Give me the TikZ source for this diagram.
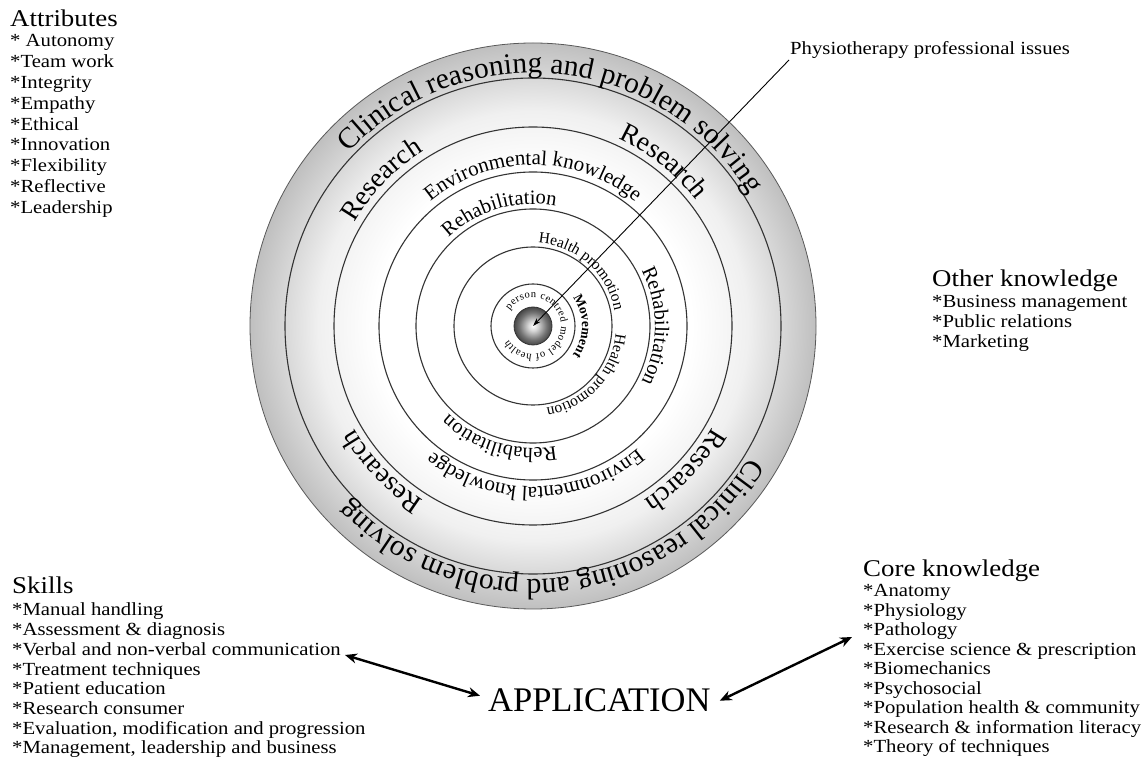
\documentclass[tikz,border=0pt]{standalone}
\usepackage{fontspec}
\setmainfont{Liberation Serif}
\newfontfamily\listfamily{Liberation Serif}[FakeStretch=1.12]
\usetikzlibrary{decorations.text,arrows.meta}

% radial fills for the big disc and the small hub ball
% (the circle edge sits at about 35.4bp of the shading)
\pgfdeclareradialshading{discshade}{\pgfpoint{0bp}{0bp}}{%
  color(0bp)=(white); color(14bp)=(white); color(19bp)=(black!6);
  color(25bp)=(black!25); color(31bp)=(black!42); color(35.4bp)=(black!55);
  color(50bp)=(black!55)}
\pgfdeclareradialshading{ballshade}{\pgfpoint{0bp}{0bp}}{%
  color(0bp)=(white); color(6bp)=(black!15); color(18bp)=(black!55);
  color(28bp)=(black!80); color(35.4bp)=(black!90); color(50bp)=(black!90)}

% fonts for the ring captions
\newcommand\ringOuterFont{\fontsize{29.5pt}{29.5pt}\selectfont}
\newcommand\ringResFont{\fontsize{27.5pt}{27.5pt}\selectfont}
\newcommand\ringEnvFont{\fontsize{21pt}{21pt}\selectfont}
\newcommand\ringRehFont{\fontsize{20.5pt}{20.5pt}\selectfont}
\newcommand\ringHealthFont{\fontsize{15.5pt}{15.5pt}\selectfont}
\newcommand\ringMoveFont{\bfseries\fontsize{13.5pt}{13.5pt}\selectfont}
\newcommand\ringCoreFont{\fontsize{10.5pt}{10.5pt}\selectfont}
% fonts for the side lists
\newcommand\headFont{\listfamily\fontsize{24pt}{24pt}\selectfont}
\newcommand\itemsFont[1]{\listfamily\fontsize{18.5pt}{#1}\selectfont}

% caption centred on angle #2, set clockwise at baseline radius #1
% (#3 font, #4 text)
\newcommand\ringlabel[4]{%
  \path[decorate, decoration={text along path, text align=center,
        text={|#3|#4}}]
    ([shift={({#2+70}:#1)}]hub) arc[start angle={#2+70}, end angle={#2-70}, radius=#1];}
% caption spread from angle #2 to angle #3 at baseline radius #1
\newcommand\ringlabelfit[5]{%
  \path[decorate, decoration={text along path, text align={fit to path},
        text={|#4|#5}}]
    ([shift={(#2:#1)}]hub) arc[start angle=#2, end angle=#3, radius=#1];}

\begin{document}
\begin{tikzpicture}[x=1pt,y=1pt,
  ringline/.style={draw=black!80, line width=1.1pt},
  listhead/.style={anchor=base west, inner sep=0pt, font=\headFont},
  listbody/.style={anchor=base west, inner sep=0pt},
  appArrow/.style={line width=2.4pt,
    {Stealth[length=12pt,width=10pt]}-{Stealth[length=12pt,width=10pt]}},
  physArrow/.style={line width=0.9pt, -{Stealth[length=8pt,width=5pt]}}]

\useasboundingbox (0,0) rectangle (1144,769);
\fill[white] (0,0) rectangle (1144,769);

\coordinate (hub) at (533,443);

% shaded disc and its concentric rings
\shade[shading=discshade] (hub) circle (283pt);
\draw[black!65, line width=0.8pt] (hub) circle (283pt);
\foreach \r in {42,79,117,154,199,248}
  \draw[ringline] (hub) circle (\r pt);

% ring captions
\ringlabel{253pt}{84}{\ringOuterFont}{Clinical reasoning and problem solving}
\ringlabel{253pt}{-84}{\ringOuterFont}{Clinical reasoning and problem solving}
\ringlabel{206pt}{136}{\ringResFont}{Research}
\ringlabel{206pt}{51.5}{\ringResFont}{Research}
\ringlabel{206pt}{-43.5}{\ringResFont}{Research}
\ringlabel{206pt}{-136}{\ringResFont}{Research}
\ringlabel{161pt}{90}{\ringEnvFont}{Environmental knowledge}
\ringlabel{161pt}{-89}{\ringEnvFont}{Environmental knowledge}
\ringlabel{122pt}{106.5}{\ringRehFont}{Rehabilitation}
\ringlabel{122pt}{0}{\ringRehFont}{Rehabilitation}
\ringlabel{122pt}{-106.5}{\ringRehFont}{Rehabilitation}
\ringlabel{83pt}{48.5}{\ringHealthFont}{Health promotion}
\ringlabel{83pt}{-43}{\ringHealthFont}{Health promotion}
\ringlabel{49pt}{0}{\ringMoveFont}{Movement}
\ringlabelfit{28pt}{146}{-150}{\ringCoreFont}{person centred model of health}

% hub ball
\shade[shading=ballshade] (hub) circle (19pt);
\draw[black!80, line width=0.8pt] (hub) circle (19pt);

% pointer from the professional-issues label into the hub
\node[anchor=south west, inner sep=1pt, font=\itemsFont{20pt}] (phys) at (789,709)
  {Physiotherapy professional issues};
\draw[physArrow] (phys.south west) -- (hub);

% Attributes
\node[listhead] (attrHead) at (10,742) {Attributes};
\node[listbody] (attrList) at (10,722) {\itemsFont{20.8pt}%
  \begin{tabular}[t]{@{}l@{}}
  {*} Autonomy\\ {*}Team work\\ {*}Integrity\\ {*}Empathy\\ {*}Ethical\\
  {*}Innovation\\ {*}Flexibility\\ {*}Reflective\\ {*}Leadership
  \end{tabular}};

% Other knowledge
\node[listhead] (otherHead) at (932,482) {Other knowledge};
\node[listbody] (otherList) at (932,461) {\itemsFont{20pt}%
  \begin{tabular}[t]{@{}l@{}}
  {*}Business management\\ {*}Public relations\\ {*}Marketing
  \end{tabular}};

% Skills
\node[listhead] (skillsHead) at (12,175) {Skills};
\node[listbody] (skillsList) at (12,153) {\itemsFont{19.7pt}%
  \begin{tabular}[t]{@{}l@{}}
  {*}Manual handling\\ {*}Assessment \& diagnosis\\
  {*}Verbal and non-verbal communication\\ {*}Treatment techniques\\
  {*}Patient education\\ {*}Research consumer\\
  {*}Evaluation, modification and progression\\
  {*}Management, leadership and business
  \end{tabular}};

% Core knowledge
\node[listhead] (coreHead) at (863,192) {Core knowledge};
\node[listbody] (coreList) at (863,172) {\itemsFont{19.5pt}%
  \begin{tabular}[t]{@{}l@{}}
  {*}Anatomy\\ {*}Physiology\\ {*}Pathology\\
  {*}Exercise science \& prescription\\ {*}Biomechanics\\ {*}Psychosocial\\
  {*}Population health \& community\\ {*}Research \& information literacy\\
  {*}Theory of techniques
  \end{tabular}};

% APPLICATION and its two links
\node[anchor=base west, inner sep=0pt, font=\fontsize{34.5pt}{34.5pt}\selectfont]
  (app) at (488,57) {APPLICATION};
\coordinate (skillsTip) at (345,114);
\coordinate (coreTip) at (852,132);
\draw[appArrow] (skillsTip) -- ([shift={(-8pt,5pt)}]app.west);
\draw[appArrow] ([shift={(9pt,0pt)}]app.east) -- (coreTip);

\end{tikzpicture}
\end{document}
